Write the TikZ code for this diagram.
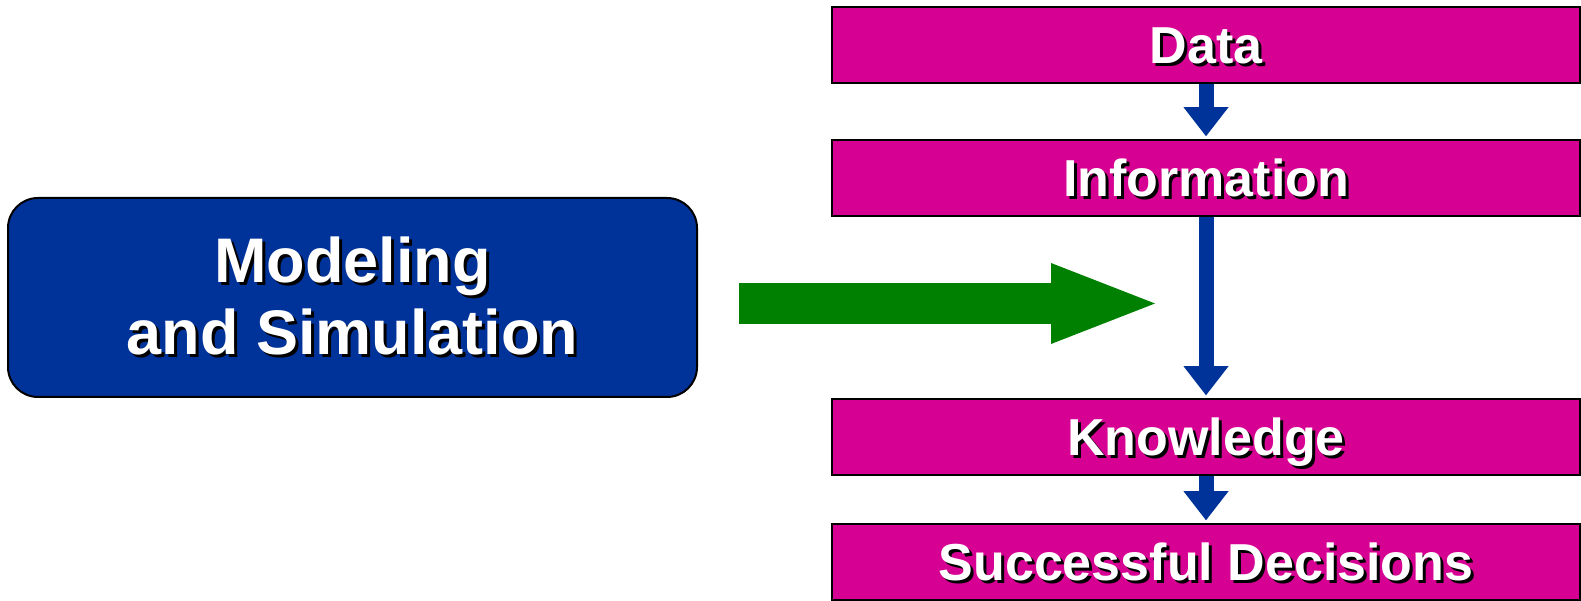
\documentclass[tikz,border=0pt]{standalone}
\usepackage{fontspec}
\setmainfont{Liberation Sans}
\usepackage{xcolor}
\usetikzlibrary{arrows.meta,positioning}
\definecolor{stagepink}{HTML}{D60093}
\definecolor{msblue}{HTML}{003399}
\definecolor{flowgreen}{HTML}{008000}
\newcommand{\shadowed}[1]{\makebox[0pt][l]{\hspace*{3pt}\raisebox{-3pt}{\color{black}#1}}#1}

\begin{document}
\begin{tikzpicture}[
  x=1pt, y=1pt,
  stage/.style={draw=black, line width=1.5pt, fill=stagepink, text=white,
                minimum width=748pt, minimum height=76pt, inner sep=0pt,
                font=\fontsize{52}{60}\selectfont\bfseries,
                text height=37pt, text depth=0pt},
  model/.style={draw=black, line width=2pt, fill=msblue, text=white,
                rounded corners=30pt, minimum width=689pt, minimum height=199pt,
                align=center, font=\fontsize{63}{72}\selectfont\bfseries},
  flow/.style={msblue, line width=15pt,
               -{Triangle[width=45pt, length=29pt, line width=0pt]}, shorten >=3pt},
  bigflow/.style={flowgreen, line width=41pt,
                  -{Triangle[width=81pt, length=104pt, line width=0pt]}},
]
\useasboundingbox (0,0) rectangle (1581,601);

% --- the chain on the right, top to bottom
\node[stage] (data) at (1206,556)   {\shadowed{Data}};
\node[stage] (info) at (1206,423)   {\shadowed{Information}};
\node[stage] (know) at (1206,164)   {\shadowed{Knowledge}};
\node[stage] (dec)  at (1206,39)    {\shadowed{Successful Decisions}};

\draw[flow] (data.south) -- (info.north);
\draw[flow] (info.south) -- (know.north);
\draw[flow] (know.south) -- (dec.north);

% --- modeling feeds in between information and knowledge
\node[model] (ms) at (352.5,303.5) {\shadowed{Modeling}\\\shadowed{and Simulation}};
\coordinate (gtip) at (1155,297.5);
\draw[bigflow] ([xshift=41pt, yshift=-6pt]ms.east) -- (gtip);
\end{tikzpicture}
\end{document}
